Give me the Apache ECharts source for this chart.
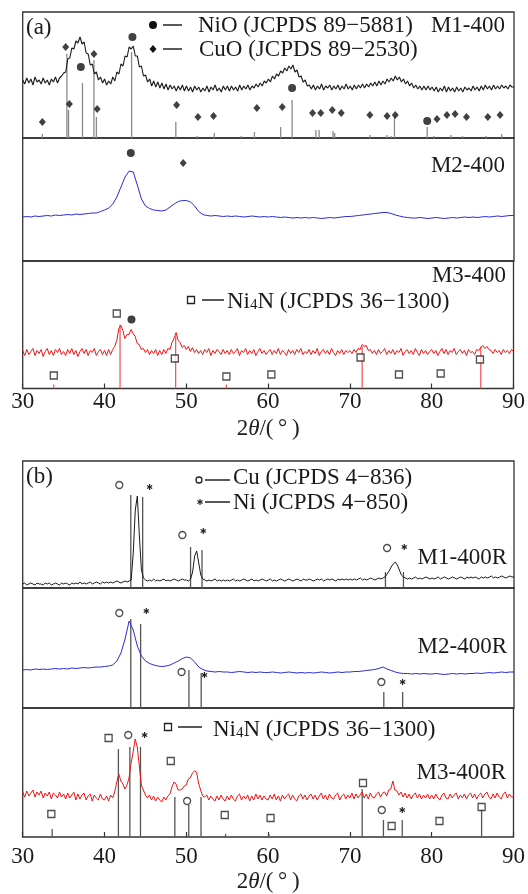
<!DOCTYPE html>
<html><head><meta charset="utf-8">
<script src="https://cdn.jsdelivr.net/npm/echarts/dist/echarts.min.js"></script>
<style>html,body{margin:0;padding:0;background:#fff}#c{width:528px;height:894px}</style>
</head><body><div id="c"></div><script>
// ---------------- DATA ----------------
const X_MIN = 30, X_MAX = 90, X_TICK = 10;
const TICK_LABELS = ['30','40','50','60','70','80','90'];
const SAMPLE_LABELS = ['M1-400','M2-400','M3-400','M1-400R','M2-400R','M3-400R'];

// M1-400 (start 30, step 0.25)
const M1_400_step = 0.25;
const M1_400 = [
58,54,60,55,59,53,61,56,58,54,60,55,58,53,59,56,61,55,60,62,
65,66,79,80,90,89,97,95,101,94,96,85,84,73,74,64,66,58,61,55,
59,53,57,54,61,57,66,64,74,72,82,81,91,89,92,82,82,71,72,62,
63,56,59,52,57,51,56,50,55,49,54,48,53,49,52,47,52,48,53,47,
52,47,51,46,52,48,51,46,50,47,52,46,51,48,53,47,50,46,52,48,
52,47,52,48,51,47,53,48,52,49,53,48,52,50,54,51,55,52,57,55,
59,56,62,59,64,62,67,65,70,67,72,69,73,66,68,61,62,56,58,52,
53,49,53,48,52,49,54,48,52,50,53,48,52,49,53,48,52,49,54,49,
52,48,53,49,53,50,54,50,54,51,55,52,56,52,57,53,57,54,59,56,
60,57,62,58,61,56,59,54,57,52,55,50,53,49,52,48,52,48,52,48,
51,47,51,46,50,47,52,46,51,47,50,46,51,47,50,46,51,48,50,47,
52,48,51,47,52,48,53,49,52,48,53,49,52,49,53,50,52,49,53,51,
51];

// M2-400 (start 30, step 0.5)
const M2_400_step = 0.5;
const M2_400 = [
44,44.5,44,45,44.5,45,45.5,45,46,45.5,
46,46.5,46,47,46.5,47,47.5,48,48,49.5,
51,53,57,64,74,84,90,89,76,62,
55,52.5,51,50.5,50,51,54,57,59.5,60.5,
60.5,59,55,49.5,46.5,45.5,45,45.5,45,44.5,
45,44.5,45,44.5,44,44.5,45,44.5,44,44.5,
44,44.5,44,43.5,44,43.5,43,43.5,43,43.5,
43,43.5,43,42.5,43,43.5,43,43.5,44,44.5,
44.5,45,45.5,46,46.5,47,47.5,48,48.5,48.5,
47.5,46,45,44,43.5,43,43,43.5,43,42.5,
43,43.5,43,42.5,43,43.5,43,43.5,44,43.5,
44,43.5,44,44.5,44,44.5,45,44.5,45,45.5,
45.5];

// M3-400 (start 30, step 0.25)
const M3_400_step = 0.25;
const M3_400 = [
38,33,39,34,37,40,33,38,35,39,32,37,40,34,38,33,39,36,40,34,
37,33,39,35,40,34,38,32,37,40,35,39,33,38,36,40,33,37,39,34,
38,33,39,34,39,42,48,60,63,58,50,54,54,59,55,52,45,44,39,40,
36,39,34,38,35,39,33,38,34,39,35,40,39,46,50,56,48,46,41,43,
39,42,37,41,36,39,35,38,34,39,36,40,33,38,35,39,37,34,39,35,
38,34,39,35,37,40,33,38,36,40,34,38,35,39,33,37,40,35,38,34,
37,39,34,38,35,40,34,38,36,33,39,35,38,34,39,36,40,34,37,35,
39,34,38,35,40,33,37,39,35,38,34,40,36,33,38,35,39,34,38,36,
38,35,39,36,40,39,44,42,43,38,39,35,38,34,39,35,37,40,34,38,
35,39,34,38,36,40,33,37,39,35,38,34,40,36,33,39,35,38,34,37,
39,35,38,33,37,40,35,39,34,38,36,40,34,37,39,35,38,33,39,36,
37,34,39,38,41,43,40,42,39,38,35,39,36,38,34,39,36,38,35,39,
37];

// M1-400R (start 30, step 0.25)
const M1_400R_step = 0.25;
const M1_400R = [
4,5,3,4,5,4,3,5,4,4,3,5,4,5,3,4,5,4,3,5,
4,5,4,3,5,4,5,4,6,4,5,4,5,6,4,5,6,5,4,6,
5,6,5,6,5,6,7,6,5,6,7,6,7,8,35,78,92,52,18,10,
8,7,8,7,9,7,8,7,8,9,7,8,7,8,9,8,7,8,9,8,
8,7,9,16,32,37,25,13,9,8,7,8,7,8,9,7,8,7,8,7,
8,7,8,9,7,8,7,8,9,8,7,8,9,7,8,7,8,9,8,7,
8,9,7,8,7,8,9,8,7,8,9,8,7,8,9,8,7,9,8,8,
9,8,7,8,9,8,9,7,8,9,8,9,8,7,9,8,9,8,9,8,
9,8,9,8,9,10,8,9,8,9,10,9,8,9,10,9,10,11,14,17,
21,24,26,23,18,13,11,10,9,10,9,10,11,9,10,9,10,11,10,9,
10,9,10,11,9,10,11,10,9,10,11,10,9,10,11,10,9,11,10,11,
10,11,10,9,11,10,11,10,11,12,10,11,10,11,12,11,10,11,12,11,
11];

// M2-400R (start 30, step 0.5)
const M2_400R_step = 0.5;
const M2_400R = [
38,38.5,38,39,38.5,39,38.5,39,39.5,39,
39.5,39,40,39.5,40,40.5,40,40.5,41,41,
41.5,42,43,47,55,69,87,78,62,52,
47,44.5,43,42,41.5,42,43,45,47,49.5,
51,50,46,41,38.5,37,36.5,36,36.5,36,
36,35.5,36,36.5,36,35.5,36,35.5,36,35.5,
35.5,36,35.5,35,35.5,36,35.5,35,35.5,35,
35.5,35,35.5,36,35.5,35,35.5,36,35.5,36,
36,36.5,36.5,37,37.5,38,38.5,39.5,41,39,
37.5,36,35,34.5,34.5,34,34.5,34,34.5,34,
34,34.5,34,33.5,34,34.5,34,34.5,34,34.5,
34.5,35,34.5,35,35.5,35,35.5,36,35.5,36,
36];

// M3-400R (start 30, step 0.25)
const M3_400R_step = 0.25;
const M3_400R = [
45,40,46,41,44,47,40,45,42,46,39,44,41,45,38,44,42,39,45,40,
43,38,44,39,42,45,37,43,38,42,44,37,41,43,36,42,39,37,43,38,
37,41,36,42,39,45,55,63,56,53,48,52,59,74,85,98,90,72,52,47,
42,39,42,37,41,36,40,37,35,40,37,41,43,50,55,53,47,47,48,51,
52,58,59,64,66,65,54,47,41,40,42,37,41,38,36,41,37,42,38,36,
41,37,42,38,36,41,43,37,41,38,42,36,41,37,43,38,42,37,41,38,
37,42,38,43,37,41,36,42,38,41,43,37,42,38,36,41,43,38,42,37,
41,43,38,42,37,41,44,38,42,37,43,39,38,42,44,37,41,43,38,42,
39,44,38,43,39,42,45,39,43,38,44,40,39,43,45,40,44,45,41,47,
48,56,47,46,42,45,40,44,39,43,38,42,44,39,43,38,42,39,43,38,
42,38,43,39,37,42,44,39,38,43,39,42,44,38,42,39,43,38,42,44,
39,43,38,42,44,39,43,45,40,38,43,39,44,40,38,43,45,39,43,40,
40];

// Reference lines [2theta, height] and markers [2theta, height]
const A1_CuO_lines = [[32.4,4],[35.4,84],[35.6,28],[38.7,78],[39.0,21],[48.7,16],[51.3,2],[53.4,5],[56.7,2],[58.3,6],[61.5,11],[65.8,8],[66.2,8],[67.9,7],[68.1,5],[72.4,3],[74.5,3],[75.0,2],[80.2,2],[82.3,3],[83.7,2],[86.6,2],[88.5,4]];
const A1_NiO_lines = [[37.3,55],[43.3,86],[62.9,38],[75.4,21],[79.4,11]];
const A1_CuO_marks = [[32.4,16],[35.25,91],[35.7,34],[38.7,84],[39.1,29],[48.8,33],[51.4,21],[53.3,22],[58.6,30],[61.7,31],[65.4,25],[66.4,25],[67.8,28],[68.9,25],[72.4,23],[74.5,22],[75.5,23],[80.6,19],[81.8,23],[82.8,24],[84.2,21],[86.8,21],[88.3,23]];
const A1_NiO_marks = [[37.1,71],[43.4,101],[62.9,50],[79.4,17]];
const A2_NiO_marks = [[43.2,108]];
const A2_CuO_marks = [[49.6,98]];
const A3_Ni4N_lines = [[33.8,4],[41.9,64],[48.7,52],[54.9,4],[71.5,42],[86.0,42]];
const A3_Ni4N_marks = [[33.8,13],[41.5,75],[48.6,30],[54.9,12],[60.4,14],[71.3,31],[76.0,14],[81.1,15],[85.9,29]];
const A3_NiO_marks = [[43.3,69]];
const B1_Cu_lines = [[43.2,93],[50.5,41],[74.3,16]];
const B1_Ni_lines = [[44.65,91],[51.9,38],[76.5,16]];
const B1_Cu_marks = [[41.8,103],[49.5,53],[74.5,40]];
const B1_Ni_marks = [[45.5,101],[52.05,57],[76.6,41]];
const B2_Cu_lines = [[43.2,89],[50.3,38],[74.1,16]];
const B2_Ni_lines = [[44.4,84],[51.8,35],[76.4,16]];
const B2_Cu_marks = [[41.8,95],[49.4,36],[73.8,26]];
const B2_Ni_marks = [[45.1,97],[52.2,33],[76.4,26]];
const B3_Ni4N_lines = [[33.6,8],[41.7,88],[48.6,40],[54.8,3],[60.1,3],[71.5,48],[86.1,28]];
const B3_Cu_lines = [[43.1,90],[50.3,32],[74.1,17]];
const B3_Ni_lines = [[44.4,90],[51.8,40],[76.4,17]];
const B3_Ni4N_marks = [[33.5,23],[40.5,99],[48.1,76],[54.7,22],[60.3,19],[71.6,54],[75.1,11],[80.95,16],[86.1,30]];
const B3_Cu_marks = [[42.9,102],[50.1,36],[73.9,27]];
const B3_Ni_marks = [[44.9,102],[76.4,27]];

const LEG_NiO = 'NiO (JCPDS 89\u22125881)';
const LEG_CuO = 'CuO (JCPDS 89\u22122530)';
const LEG_Ni4N_rest = 'N (JCPDS 36\u22121300)';
const LEG_Cu = 'Cu (JCPDS 4\u2212836)';
const LEG_Ni = 'Ni (JCPDS 4\u2212850)';

// ---------------- LAYOUT / STYLE ----------------
const FONT = "'Liberation Serif','Times New Roman',serif";
const FS = 23;
const GRIDS = [
  {top:12, h:126}, {top:138, h:123}, {top:261, h:127.5},
  {top:461, h:127}, {top:588, h:120}, {top:708, h:129}
];
const C_BLACK = '#1a1a1a', C_BLUE = '#2a2ad8', C_RED = '#f01414';

function pairs(step, ys){ return ys.map((y,i)=>[X_MIN + i*step, y]); }
function curve(gi, step, ys, color, w){
  return {type:'line', xAxisIndex:gi, yAxisIndex:gi, data:pairs(step, ys), showSymbol:false, symbol:'none',
    lineStyle:{color, width:w||1}, z:3, silent:true};
}
function vlines(gi, data, color, width){
  return {type:'custom', xAxisIndex:gi, yAxisIndex:gi, data, silent:true, z:2,
    renderItem:(p, api)=>{
      const a = api.coord([api.value(0), 0]);
      const b = api.coord([api.value(0), api.value(1)]);
      return {type:'line', shape:{x1:a[0], y1:a[1], x2:b[0], y2:b[1]}, style:{stroke:color, lineWidth:width}};
    }};
}
function asterisks(gi, data){
  return {type:'custom', xAxisIndex:gi, yAxisIndex:gi, data, silent:true, z:6,
    renderItem:(p, api)=>{
      const c = api.coord([api.value(0), api.value(1)]);
      const x = c[0], y = c[1], st = {stroke:'#222', lineWidth:1.2};
      return {type:'group', children:[
        {type:'line', shape:{x1:x, y1:y-3, x2:x, y2:y+3}, style:st},
        {type:'line', shape:{x1:x-2.6, y1:y-1.5, x2:x+2.6, y2:y+1.5}, style:st},
        {type:'line', shape:{x1:x-2.6, y1:y+1.5, x2:x+2.6, y2:y-1.5}, style:st}
      ]};
    }};
}
function marks(gi, data, kind){
  if (kind==='ast') return asterisks(gi, data);
  const s = {type:'scatter', xAxisIndex:gi, yAxisIndex:gi, data, silent:true, z:5};
  if (kind==='dot'){ s.symbol='circle'; s.symbolSize=8; s.itemStyle={color:'#111'}; }
  if (kind==='diamond'){ s.symbol='diamond'; s.symbolSize=[7,8]; s.itemStyle={color:'#111'}; }
  if (kind==='square'){ s.symbol='rect'; s.symbolSize=7; s.itemStyle={color:'#fff', borderColor:'#222', borderWidth:1.3}; }
  if (kind==='ocircle'){ s.symbol='circle'; s.symbolSize=7; s.itemStyle={color:'#fff', borderColor:'#222', borderWidth:1.3}; }
  return s;
}

const series = [
  vlines(0, A1_CuO_lines, '#8a8a8a', 1.3),
  vlines(0, A1_NiO_lines, '#8a8a8a', 1.3),
  curve(0, M1_400_step, M1_400, C_BLACK, 1.1),
  marks(0, A1_CuO_marks, 'diamond'),
  marks(0, A1_NiO_marks, 'dot'),
  curve(1, M2_400_step, M2_400, C_BLUE),
  marks(1, A2_NiO_marks, 'dot'),
  marks(1, A2_CuO_marks, 'diamond'),
  vlines(2, A3_Ni4N_lines, '#f05050', 1.2),
  curve(2, M3_400_step, M3_400, C_RED),
  marks(2, A3_Ni4N_marks, 'square'),
  marks(2, A3_NiO_marks, 'dot'),
  vlines(3, B1_Cu_lines, '#555', 1.3),
  vlines(3, B1_Ni_lines, '#555', 1.3),
  curve(3, M1_400R_step, M1_400R, C_BLACK),
  marks(3, B1_Cu_marks, 'ocircle'),
  marks(3, B1_Ni_marks, 'ast'),
  vlines(4, B2_Cu_lines, '#555', 1.3),
  vlines(4, B2_Ni_lines, '#555', 1.3),
  curve(4, M2_400R_step, M2_400R, C_BLUE),
  marks(4, B2_Cu_marks, 'ocircle'),
  marks(4, B2_Ni_marks, 'ast'),
  vlines(5, B3_Ni4N_lines, '#555', 1.3),
  vlines(5, B3_Cu_lines, '#555', 1.3),
  vlines(5, B3_Ni_lines, '#555', 1.3),
  curve(5, M3_400R_step, M3_400R, C_RED),
  marks(5, B3_Ni4N_marks, 'square'),
  marks(5, B3_Cu_marks, 'ocircle'),
  marks(5, B3_Ni_marks, 'ast')
];

const nameRich = {
  n:{fontSize:FS, fontFamily:FONT, color:'#222'},
  i:{fontSize:FS, fontFamily:FONT, color:'#222', fontStyle:'italic'}
};

// graphic helpers (text labels and legend keys)
function text(x, y, t, align){
  return {type:'text', x, y, z:20, style:{text:t, fontSize:FS, fontFamily:FONT, fill:'#1a1a1a', align:align||'left', verticalAlign:'middle'}};
}
function richNi4N(x, y){
  return {type:'text', x, y, z:20, style:{
    text:'{t|Ni}{s|4}{t|' + LEG_Ni4N_rest + '}',
    fill:'#1a1a1a', align:'left', verticalAlign:'middle',
    rich:{ t:{fontSize:FS, fontFamily:FONT, fill:'#1a1a1a', lineHeight:24, verticalAlign:'bottom'},
           s:{fontSize:15, fontFamily:FONT, fill:'#1a1a1a', lineHeight:15, verticalAlign:'bottom'} }
  }};
}
function hline(x1, x2, y){ return {type:'line', z:20, shape:{x1, y1:y, x2, y2:y}, style:{stroke:'#222', lineWidth:1.5}}; }
function gdot(x, y){ return {type:'circle', z:20, shape:{cx:x, cy:y, r:4}, style:{fill:'#111'}}; }
function gdiamond(x, y){ return {type:'polygon', z:20, shape:{points:[[x,y-4],[x+3.5,y],[x,y+4],[x-3.5,y]]}, style:{fill:'#111'}}; }
function gsquare(x, y){ return {type:'rect', z:20, shape:{x:x-3.5, y:y-3.5, width:7, height:7}, style:{fill:'#fff', stroke:'#222', lineWidth:1.3}}; }
function gocircle(x, y){ return {type:'circle', z:20, shape:{cx:x, cy:y, r:3}, style:{fill:'#fff', stroke:'#222', lineWidth:1.3}}; }
function gast(x, y){
  const st = {stroke:'#222', lineWidth:1.2};
  return {type:'group', z:20, children:[
    {type:'line', shape:{x1:x, y1:y-3, x2:x, y2:y+3}, style:st},
    {type:'line', shape:{x1:x-2.6, y1:y-1.5, x2:x+2.6, y2:y+1.5}, style:st},
    {type:'line', shape:{x1:x-2.6, y1:y+1.5, x2:x+2.6, y2:y-1.5}, style:st}
  ]};
}

const graphics = [
  text(26, 28, '(a)'),
  gdot(153, 25), hline(163, 182, 25), text(198, 26, LEG_NiO),
  gdiamond(153, 49), hline(163, 182, 49), text(199, 50, LEG_CuO),
  text(505, 26, SAMPLE_LABELS[0], 'right'),
  text(505, 166, SAMPLE_LABELS[1], 'right'),
  gsquare(191, 300), hline(202, 224, 300), richNi4N(227, 301),
  text(506, 276, SAMPLE_LABELS[2], 'right'),
  text(26, 477, '(b)'),
  gocircle(199, 480), hline(205, 230, 480), text(233, 478, LEG_Cu),
  gast(200, 502), hline(205, 230, 502), text(233, 503, LEG_Ni),
  text(507, 558, SAMPLE_LABELS[3], 'right'),
  text(507, 647, SAMPLE_LABELS[4], 'right'),
  gsquare(168, 727), hline(178, 202, 727), richNi4N(213, 729),
  text(506, 773, SAMPLE_LABELS[5], 'right')
];

const option = {
  animation:false,
  backgroundColor:'#fff',
  grid: GRIDS.map(g=>({left:22.7, right:14, top:g.top, height:g.h, show:true,
    borderColor:'#333', borderWidth:1.3, backgroundColor:'transparent'})),
  xAxis: GRIDS.map((g,i)=>{
    const bottom = (i===2 || i===5);
    return {type:'value', gridIndex:i, min:X_MIN, max:X_MAX, interval:X_TICK,
      axisLine:{show:false}, splitLine:{show:false},
      axisTick:{show:bottom, inside:true, length:5, lineStyle:{color:'#333', width:1.2}},
      axisLabel:{show:bottom, margin:(i===2?2:8), fontSize:FS, fontFamily:FONT, color:'#1a1a1a',
        formatter:(v)=>TICK_LABELS[Math.round((v-X_MIN)/X_TICK)]},
      name: bottom ? '{n|2}{i|\u03b8}{n|/(\u2009\u00b0\u2009)}' : '',
      nameLocation:'middle', nameGap:(i===2?29:33),
      nameTextStyle:{fontSize:FS, fontFamily:FONT, color:'#1a1a1a', rich:nameRich}
    };
  }),
  yAxis: GRIDS.map((g,i)=>({type:'value', gridIndex:i, min:0, max:g.h, show:false})),
  series,
  graphic: graphics
};

const chart = echarts.init(document.getElementById('c'), null, {renderer:'canvas'});
chart.setOption(option);
</script></body></html>
